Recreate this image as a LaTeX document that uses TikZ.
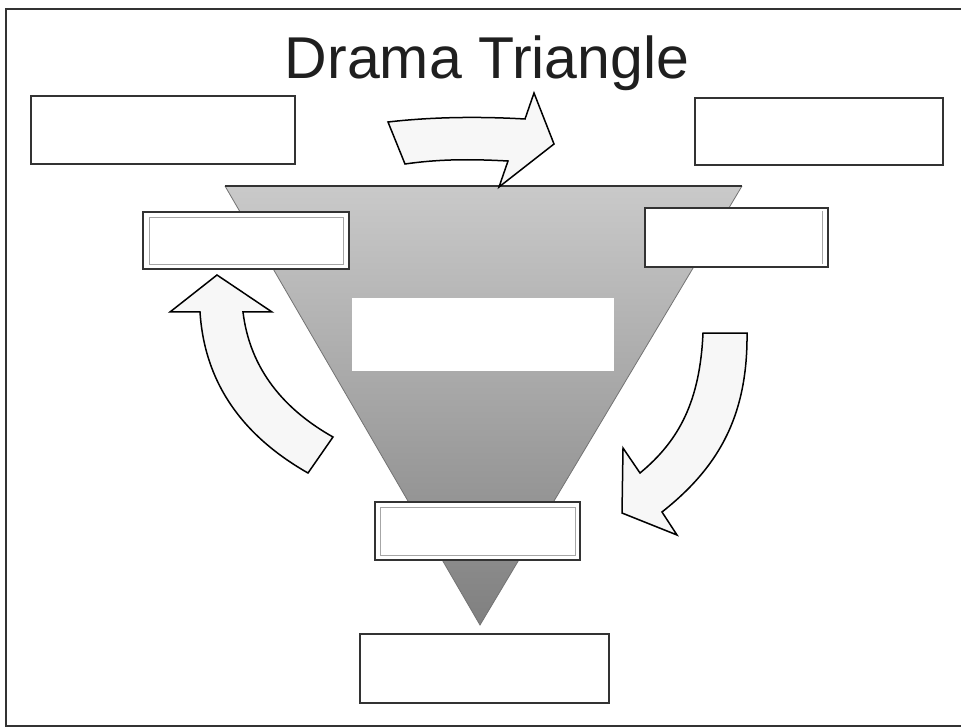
\documentclass[tikz,border=0pt]{standalone}
\usepackage{fontspec}
\setmainfont{Liberation Sans}
\begin{document}
\begin{tikzpicture}[x=1pt,y=-1pt,
  frameline/.style={draw=black!80, line width=2pt},
  blankbox/.style={draw=black!80, fill=white, line width=1.4pt},
  innerline/.style={draw=black!35, line width=0.8pt},
  blockarrow/.style={draw=black, fill=black!3, line width=1.5pt, line join=miter},
  title/.style={font=\fontsize{59}{63}\selectfont, text=black!88, inner sep=0pt}
]
\clip (0,0) rectangle (961,727);
\fill[white] (0,0) rectangle (961,727);

% outer frame of the sheet
\draw[frameline] (6,9) rectangle (975,726);

% title
\node[title, anchor=base] (title) at (487,79) {Drama Triangle};

% the inverted triangle with its grey shading
\coordinate (tl) at (225,186);
\coordinate (tr) at (742,186);
\coordinate (apex) at (480,625);
\shade[top color=black!21, bottom color=black!50] (tl) -- (tr) -- (apex) -- cycle;
\draw[black!55, line width=0.8pt] (tr) -- (apex) -- (tl);
\draw[black!80, line width=1.6pt] (tl) -- (tr);

% blank label boxes
\draw[blankbox] (31,96) rectangle (295,164);
\node[inner sep=0pt, minimum width=264pt, minimum height=68pt] (boxTL) at (163,130) {};
\draw[blankbox] (695,98) rectangle (943,165);
\node[inner sep=0pt, minimum width=248pt, minimum height=67pt] (boxTR) at (819,131.5) {};

\draw[blankbox] (143,212) rectangle (349,269);
\draw[innerline] (149,217) rectangle (343,264);
\node[inner sep=0pt, minimum width=206pt, minimum height=57pt] (boxL) at (246,240.5) {};

\draw[blankbox] (645,208) rectangle (828,267);
\draw[innerline] (822,211) -- (822,264);
\node[inner sep=0pt, minimum width=183pt, minimum height=59pt] (boxR) at (736.5,237.5) {};

\fill[white] (352,298) rectangle (614,371);
\node[inner sep=0pt, minimum width=262pt, minimum height=73pt] (boxC) at (483,334.5) {};

\draw[blankbox] (375,502) rectangle (580,560);
\draw[innerline] (380,507) rectangle (575,555);
\node[inner sep=0pt, minimum width=205pt, minimum height=58pt] (boxB) at (477.5,531) {};

\draw[blankbox] (360,634) rectangle (609,703);
\node[inner sep=0pt, minimum width=249pt, minimum height=69pt] (boxBB) at (484.5,668.5) {};

% top block arrow pointing right
\draw[blockarrow]
  (388,122) .. controls (440,116) and (490,117) .. (525,119)
  -- (534,93) -- (554,144) -- (499,187) -- (508,161)
  .. controls (470,159) and (440,159) .. (405,164) -- cycle;

% left curved arrow pointing up
\draw[blockarrow]
  (308,473) .. controls (250,440) and (205,390) .. (200,312)
  -- (170,312) -- (217,275) -- (272,312) -- (243,312)
  .. controls (250,370) and (285,410) .. (333,437) -- cycle;

% right curved arrow pointing down-left
\draw[blockarrow]
  (703,333) .. controls (700,400) and (680,440) .. (640,473)
  -- (623,448) -- (622,513) -- (677,535) -- (662,512)
  .. controls (715,470) and (748,420) .. (747,333) -- cycle;
\end{tikzpicture}
\end{document}
